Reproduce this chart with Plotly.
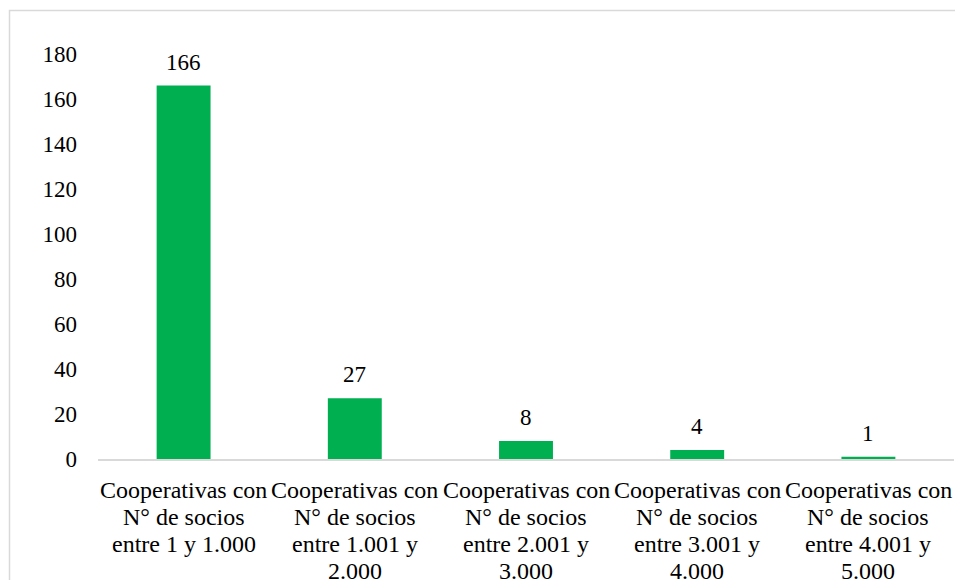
import plotly.graph_objects as go

categories = [
    "Cooperativas con<br>N° de socios<br>entre 1 y 1.000",
    "Cooperativas con<br>N° de socios<br>entre 1.001 y<br>2.000",
    "Cooperativas con<br>N° de socios<br>entre 2.001 y<br>3.000",
    "Cooperativas con<br>N° de socios<br>entre 3.001 y<br>4.000",
    "Cooperativas con<br>N° de socios<br>entre 4.001 y<br>5.000",
]
values = [166, 27, 8, 4, 1]
y_ticks = [0, 20, 40, 60, 80, 100, 120, 140, 160, 180]

FONT = "Times New Roman, Liberation Serif, DejaVu Serif, serif"
FS = 23
FS_CAT = 24
LINE_H = 27

fig = go.Figure(
    go.Bar(
        x=categories,
        y=values,
        marker=dict(color="#00B050", line=dict(width=0)),
        cliponaxis=False,
        width=0.315,
    )
)

for c, v in zip(categories, values):
    fig.add_annotation(
        x=c, y=v, text=str(v), showarrow=False,
        yanchor="bottom", yshift=9,
        font=dict(family=FONT, size=FS, color="#000000"),
    )
    # category label, one annotation per line for Excel-like line spacing
    for i, line in enumerate(c.split("<br>")):
        fig.add_annotation(
            x=c, y=0, text=line, showarrow=False,
            yanchor="middle", xanchor="center",
            yshift=-(31 + i * LINE_H),
            font=dict(family=FONT, size=FS_CAT, color="#000000"),
        )

fig.update_layout(
    width=955,
    height=580,
    margin=dict(l=98, r=1, t=54, b=121, autoexpand=False),
    paper_bgcolor="white",
    plot_bgcolor="white",
    font=dict(family=FONT, size=FS, color="#000000"),
    showlegend=False,
    xaxis=dict(
        showline=True,
        linecolor="#D9D9D9",
        linewidth=2,
        ticks="",
        showgrid=False,
        showticklabels=False,
        automargin=False,
    ),
    yaxis=dict(
        range=[0, 180],
        tickvals=y_ticks,
        showgrid=False,
        zeroline=False,
        showline=False,
        ticks="",
        automargin=False,
        tickfont=dict(family=FONT, size=FS, color="#000000"),
        ticklabelstandoff=20,
    ),
    shapes=[
        dict(
            type="rect",
            xref="paper",
            yref="paper",
            x0=(9.5 - 98) / 856,
            x1=1.2,
            y0=-0.5,
            y1=(459 - 10.5) / 405,
            line=dict(color="#D9D9D9", width=1.5),
            fillcolor="rgba(0,0,0,0)",
            layer="below",
        )
    ],
)

fig.write_html("out.html")
